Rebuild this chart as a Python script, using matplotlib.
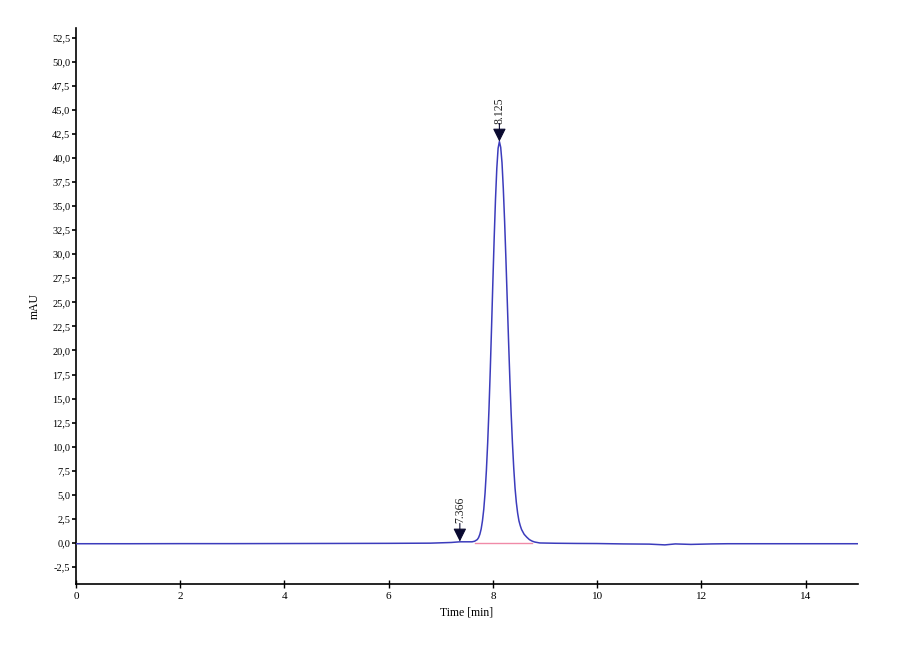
import matplotlib
matplotlib.use("Agg")
import matplotlib.pyplot as plt

plt.rcParams['font.family'] = ['Liberation Serif', 'DejaVu Serif']

# chromatogram trace (time in min, signal in mAU)
time = [0.0, 1.0, 2.0, 3.0, 4.0, 5.0, 6.0, 6.8, 7.2, 7.366, 7.5, 7.6, 7.65,
        7.70, 7.725, 7.75, 7.775, 7.80, 7.825, 7.85, 7.875, 7.90, 7.925, 7.95,
        7.975, 8.00, 8.025, 8.05, 8.075, 8.10, 8.125, 8.15, 8.175, 8.20, 8.225,
        8.25, 8.275, 8.30, 8.325, 8.35, 8.375, 8.40, 8.425, 8.45, 8.475, 8.50,
        8.525, 8.55, 8.60, 8.65, 8.70, 8.75, 8.80, 8.85, 8.90, 9.2, 9.6, 10.0,
        10.5, 11.0, 11.3, 11.5, 11.8, 12.2, 12.5, 13.0, 14.0, 15.0]
signal = [-0.08, -0.08, -0.07, -0.07, -0.06, -0.05, -0.04, -0.02, 0.05, 0.12,
          0.12, 0.12, 0.18, 0.35, 0.55, 0.9, 1.45, 2.3, 3.5, 5.2, 7.5, 10.4,
          13.9, 18.0, 22.5, 27.2, 31.7, 35.7, 38.9, 41.0, 41.7, 41.1, 39.5,
          36.8, 33.4, 29.5, 25.3, 21.1, 17.1, 13.5, 10.4, 7.8, 5.7, 4.2, 3.1,
          2.3, 1.8, 1.4, 0.9, 0.6, 0.35, 0.2, 0.1, 0.05, 0.0, -0.03, -0.05,
          -0.06, -0.1, -0.12, -0.2, -0.1, -0.15, -0.1, -0.08, -0.08, -0.08,
          -0.08]

# integration baseline under the main peak
base_t = [7.65, 8.75]
base_y = [0.0, 0.0]

# peak marks
peak_t = [7.366, 8.125]
peak_y = [0.15, 41.7]
peak_labels = ["7.366", "8.125"]

fig = plt.figure(figsize=(9, 6.6), dpi=100)
ax = fig.add_axes([0.0844, 0.1152, 0.8686, 0.8424])

ax.plot(base_t, base_y, color='#f08aa8', lw=1.0, zorder=2)
ax.plot(time, signal, color='#3c3cbc', lw=1.1, zorder=3)

for t, y, lab in zip(peak_t, peak_y, peak_labels):
    ax.annotate("", xy=(t, y), xytext=(0, 13), textcoords='offset points',
                arrowprops=dict(arrowstyle='-|>', color='#0a0a30', lw=0.8,
                                mutation_scale=20, shrinkA=0, shrinkB=0),
                zorder=5)
    ax.annotate(lab, xy=(t, y), xytext=(0, 13), textcoords='offset points',
                rotation=90, ha='center', va='bottom', fontsize=8.5,
                color='#222222')

ax.set_xlim(0, 15)
ax.set_ylim(-4.26, 53.5)
ax.set_xticks(range(0, 16, 2))
yt = [i * 2.5 for i in range(-1, 22)]
ax.set_yticks(yt)
ax.set_yticklabels([f"{v:.1f}".replace('.', ',') for v in yt])

ax.spines['top'].set_visible(False)
ax.spines['right'].set_visible(False)
ax.spines['left'].set_linewidth(1.2)
ax.spines['bottom'].set_linewidth(1.2)
ax.tick_params(axis='y', direction='out', length=3, width=1.2, labelsize=7.5,
               pad=1)
ax.tick_params(axis='x', direction='inout', length=6, width=1.0, labelsize=8,
               pad=3)

ax.set_xlabel("Time [min]", fontsize=8.5, labelpad=4)
ax.set_ylabel("mAU", fontsize=8.5, labelpad=8)

fig.savefig("out.png", dpi=100)
